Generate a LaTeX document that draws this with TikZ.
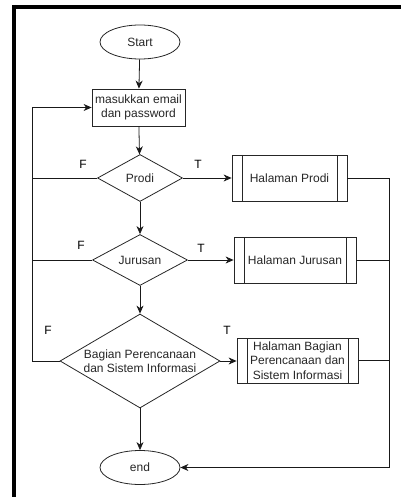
\documentclass[tikz,border=0pt]{standalone}
\usepackage{fontspec}
\setmainfont{Liberation Sans}
\usetikzlibrary{shapes.geometric, arrows.meta}

\tikzset{
  base/.style={draw=black!85, line width=0.8pt, inner sep=0pt, align=center,
    font=\fontsize{12}{14.5}\selectfont, text=black!85},
  terminal/.style={base, ellipse, minimum width=80pt, minimum height=34pt},
  process/.style={base, rectangle, minimum width=93pt, minimum height=37pt},
  decision/.style={base, diamond},
  subproc/.style={base, rectangle,
    path picture={
      \draw[black!85, line width=0.8pt]
        ([xshift=10pt]path picture bounding box.north west) --
        ([xshift=10pt]path picture bounding box.south west);
      \draw[black!85, line width=0.8pt]
        ([xshift=-10pt]path picture bounding box.north east) --
        ([xshift=-10pt]path picture bounding box.south east);
    }},
  flow/.style={draw=black!90, line width=0.8pt},
  arr/.style={flow, -{Stealth[length=8pt, width=7pt, inset=2.5pt]}},
  lbl/.style={font=\fontsize{12}{14.5}\selectfont, text=black, inner sep=0pt},
  frame/.style={draw=black, line width=4pt}
}

\begin{document}
\begin{tikzpicture}[x=1pt, y=-1pt]
\useasboundingbox (0,0) rectangle (401,497);

% outer frame (top and left edges)
\draw[frame] (12,7) -- (401,7);
\draw[frame] (14,5) -- (14,497);

% nodes
\node[terminal] (start) at (140,42) {Start};
\node[process] (login) at (138.5,107.5) {masukkan email\\dan password};
\node[decision, minimum width=85pt, minimum height=47pt, aspect=1.8] (prodi) at (140,178) {Prodi};
\node[decision, minimum width=95pt, minimum height=51pt, aspect=1.9] (jur) at (140,260) {Jurusan};
\node[decision, minimum width=160pt, minimum height=94pt, aspect=1.7] (bag) at (140,361) {Bagian Perencanaan\\dan Sistem Informasi};
\node[terminal] (end) at (140,467.5) {end};

\node[subproc, minimum width=115pt, minimum height=46pt] (hprodi) at (289.5,178) {Halaman Prodi};
\node[subproc, minimum width=122pt, minimum height=46pt] (hjur) at (295,260) {Halaman Jurusan};
\node[subproc, minimum width=121pt, minimum height=45pt] (hbag) at (297.5,360.5) {Halaman Bagian\\Perencanaan dan\\Sistem Informasi};

% branch labels
\node[lbl] (fp) at (83,164) {F};
\node[lbl] (tp) at (198,164) {T};
\node[lbl] (fj) at (81,245) {F};
\node[lbl] (tj) at (201,248) {T};
\node[lbl] (fb) at (48,330) {F};
\node[lbl] (tb) at (227,330) {T};

% main flow
\draw[arr] (start) -- (login);
\draw[arr] (login) -- (prodi);
\draw[arr] (prodi) -- (jur);
\draw[arr] (jur) -- (bag);
\draw[arr] (bag) -- (end);

% true branches
\draw[arr] (prodi) -- (hprodi);
\draw[arr] (jur) -- (hjur);
\draw[arr] (bag.east) -- (hbag.west |- bag.east);

% false branches loop back to the login box
\coordinate (lx) at (32,361);
\draw[arr] (bag.west) -- (lx) |- (login.west);
\draw[flow] (prodi.west) -- (prodi.west -| lx);
\draw[flow] (jur.west) -- (jur.west -| lx);

% pages return to end
\coordinate (rx) at (389,178);
\draw[arr] (hprodi.east) -| (rx |- end.east) -- (end.east);
\draw[flow] (hjur.east) -- (hjur.east -| rx);
\draw[flow] (hbag.east) -- (hbag.east -| rx);
\end{tikzpicture}
\end{document}
